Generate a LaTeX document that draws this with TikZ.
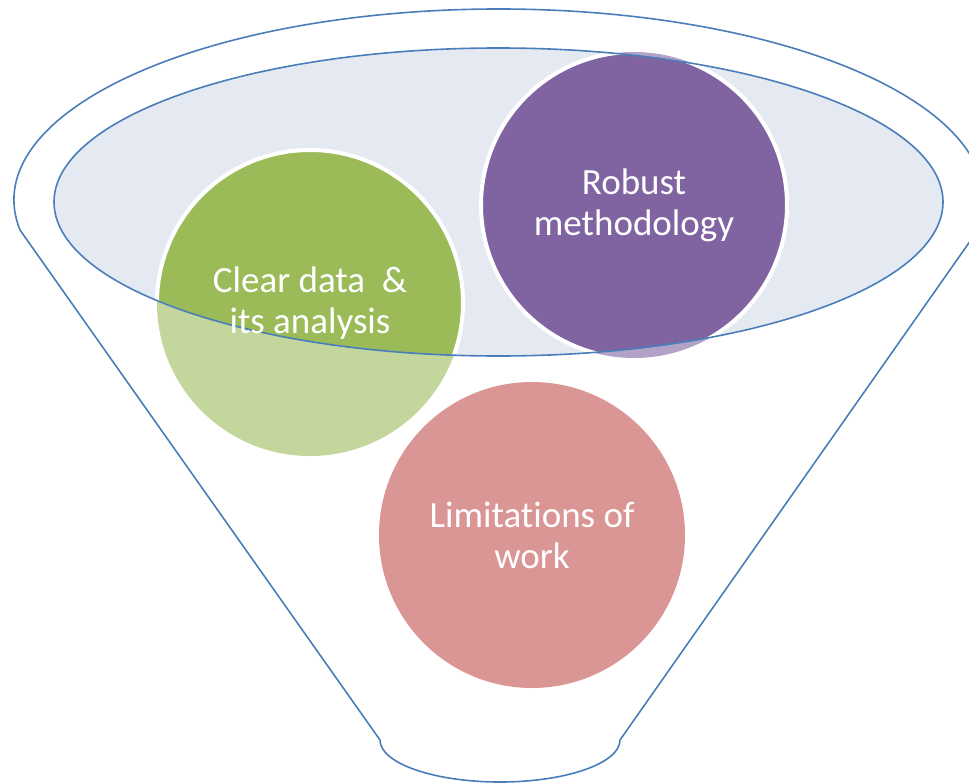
\documentclass[tikz,border=0pt]{standalone}
\usepackage{fontspec}
\setmainfont{Carlito}[Ligatures={NoCommon}]
\definecolor{funnelblue}{HTML}{4A7EBB}
\definecolor{ellfill}{HTML}{E4E9F2}
\definecolor{greenfull}{HTML}{9BBB59}
\definecolor{greenlight}{HTML}{C3D69B}
\definecolor{purplefull}{HTML}{8064A2}
\definecolor{purplelight}{HTML}{B3A2C7}
\definecolor{pinkfull}{HTML}{D99694}
\tikzset{
  outline/.style={draw=funnelblue, line width=1.6pt},
  circtext/.style={text=white, align=center, font=\fontsize{37}{41}\selectfont, inner sep=0pt},
  ringborder/.style={draw=white, line width=4pt}
}
\begin{document}
\begin{tikzpicture}[x=1pt,y=-1pt]
\useasboundingbox (0,0) rectangle (969,784);
\clip (0,0) rectangle (969,784);
% funnel outline
\coordinate (ftl) at (20,230);
\coordinate (fbl) at (380,740);
\coordinate (fbr) at (620,740);
\draw[outline, line join=round] (ftl) arc[start angle=189.04, end angle=-9.04, x radius=485pt, y radius=191pt]
  -- (fbr) arc[start angle=0, end angle=-180, x radius=120pt, y radius=42pt] -- cycle;
% inner ellipse fill
\coordinate (ec) at (498.5,202);
\fill[ellfill] (ec) ellipse[x radius=444.5pt, y radius=154pt];
% light circles
\coordinate (gc) at (310,303);
\coordinate (pc) at (634,205);
\coordinate (lc) at (532,535);
\fill[greenlight] (gc) circle[radius=153pt];
\fill[purplelight] (pc) circle[radius=153pt];
\fill[pinkfull] (lc) circle[radius=153pt];
% full colour parts inside the ellipse
\begin{scope}
  \clip (ec) ellipse[x radius=444.5pt, y radius=154pt];
  \fill[greenfull, ringborder] (gc) circle[radius=153pt];
  \fill[purplefull, ringborder] (pc) circle[radius=153pt];
\end{scope}
% inner ellipse stroke
\draw[outline] (ec) ellipse[x radius=444.5pt, y radius=154pt];
% texts
\node[circtext] (clear) at (gc) {Clear data\ \ \&\\its analysis};
\node[circtext] (robust) at (pc) {Robust\\methodology};
\node[circtext] (limits) at (lc) {Limitations of\\work};
\end{tikzpicture}
\end{document}
